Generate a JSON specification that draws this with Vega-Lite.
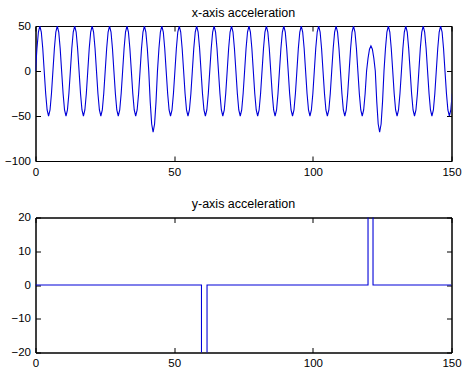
{
  "$schema": "https://vega.github.io/schema/vega-lite/v6.json",
  "padding": {"left": 2.5, "top": 6, "right": 5, "bottom": 5},
  "background": "white",
  "datasets": {
    "xacc": [
      {"x":0,"a":0},{"x":0.52,"a":25},{"x":1.05,"a":43.3},{"x":1.57,"a":50},{"x":2.09,"a":43.3},{"x":2.62,"a":25},
      {"x":3.14,"a":0},{"x":3.67,"a":-25},{"x":4.19,"a":-43.3},{"x":4.71,"a":-50},{"x":5.24,"a":-43.3},{"x":5.76,"a":-25},
      {"x":6.28,"a":0},{"x":6.81,"a":25},{"x":7.33,"a":43.3},{"x":7.85,"a":50},{"x":8.38,"a":43.3},{"x":8.9,"a":25},
      {"x":9.42,"a":0},{"x":9.95,"a":-25},{"x":10.47,"a":-43.3},{"x":11,"a":-50},{"x":11.52,"a":-43.3},{"x":12.04,"a":-25},
      {"x":12.57,"a":0},{"x":13.09,"a":25},{"x":13.61,"a":43.3},{"x":14.14,"a":50},{"x":14.66,"a":43.3},{"x":15.18,"a":25},
      {"x":15.71,"a":0},{"x":16.23,"a":-25},{"x":16.76,"a":-43.3},{"x":17.28,"a":-50},{"x":17.8,"a":-43.3},{"x":18.33,"a":-25},
      {"x":18.85,"a":0},{"x":19.37,"a":25},{"x":19.9,"a":43.3},{"x":20.42,"a":50},{"x":20.94,"a":43.3},{"x":21.47,"a":25},
      {"x":21.99,"a":0},{"x":22.51,"a":-25},{"x":23.04,"a":-43.3},{"x":23.56,"a":-50},{"x":24.09,"a":-43.3},{"x":24.61,"a":-25},
      {"x":25.13,"a":0},{"x":25.66,"a":25},{"x":26.18,"a":43.3},{"x":26.7,"a":50},{"x":27.23,"a":43.3},{"x":27.75,"a":25},
      {"x":28.27,"a":0},{"x":28.8,"a":-25},{"x":29.32,"a":-43.3},{"x":29.85,"a":-50},{"x":30.37,"a":-43.3},{"x":30.89,"a":-25},
      {"x":31.42,"a":0},{"x":31.94,"a":25},{"x":32.46,"a":43.3},{"x":32.99,"a":50},{"x":33.51,"a":43.3},{"x":34.03,"a":25},
      {"x":34.56,"a":0},{"x":35.08,"a":-25},{"x":35.6,"a":-43.3},{"x":36.13,"a":-50},{"x":36.65,"a":-43.3},{"x":37.18,"a":-25},
      {"x":37.7,"a":0},{"x":38.22,"a":25},{"x":38.75,"a":43.3},{"x":39.27,"a":50},{"x":39.79,"a":43.3},{"x":40.32,"a":25},
      {"x":40.84,"a":0},{"x":41.36,"a":-34},{"x":41.89,"a":-58.9},{"x":42.41,"a":-68},{"x":42.94,"a":-58.9},{"x":43.46,"a":-34},
      {"x":43.98,"a":0},{"x":44.51,"a":25},{"x":45.03,"a":43.3},{"x":45.55,"a":50},{"x":46.08,"a":43.3},{"x":46.6,"a":25},
      {"x":47.12,"a":0},{"x":47.65,"a":-25},{"x":48.17,"a":-43.3},{"x":48.69,"a":-50},{"x":49.22,"a":-43.3},{"x":49.74,"a":-25},
      {"x":50.27,"a":0},{"x":50.79,"a":25},{"x":51.31,"a":43.3},{"x":51.84,"a":50},{"x":52.36,"a":43.3},{"x":52.88,"a":25},
      {"x":53.41,"a":0},{"x":53.93,"a":-25},{"x":54.45,"a":-43.3},{"x":54.98,"a":-50},{"x":55.5,"a":-43.3},{"x":56.03,"a":-25},
      {"x":56.55,"a":0},{"x":57.07,"a":25},{"x":57.6,"a":43.3},{"x":58.12,"a":50},{"x":58.64,"a":43.3},{"x":59.17,"a":25},
      {"x":59.69,"a":0},{"x":60.21,"a":-25},{"x":60.74,"a":-43.3},{"x":61.26,"a":-50},{"x":61.78,"a":-43.3},{"x":62.31,"a":-25},
      {"x":62.83,"a":0},{"x":63.36,"a":25},{"x":63.88,"a":43.3},{"x":64.4,"a":50},{"x":64.93,"a":43.3},{"x":65.45,"a":25},
      {"x":65.97,"a":0},{"x":66.5,"a":-25},{"x":67.02,"a":-43.3},{"x":67.54,"a":-50},{"x":68.07,"a":-43.3},{"x":68.59,"a":-25},
      {"x":69.12,"a":0},{"x":69.64,"a":25},{"x":70.16,"a":43.3},{"x":70.69,"a":50},{"x":71.21,"a":43.3},{"x":71.73,"a":25},
      {"x":72.26,"a":0},{"x":72.78,"a":-25},{"x":73.3,"a":-43.3},{"x":73.83,"a":-50},{"x":74.35,"a":-43.3},{"x":74.87,"a":-25},
      {"x":75.4,"a":0},{"x":75.92,"a":25},{"x":76.45,"a":43.3},{"x":76.97,"a":50},{"x":77.49,"a":43.3},{"x":78.02,"a":25},
      {"x":78.54,"a":0},{"x":79.06,"a":-25},{"x":79.59,"a":-43.3},{"x":80.11,"a":-50},{"x":80.63,"a":-43.3},{"x":81.16,"a":-25},
      {"x":81.68,"a":0},{"x":82.21,"a":25},{"x":82.73,"a":43.3},{"x":83.25,"a":50},{"x":83.78,"a":43.3},{"x":84.3,"a":25},
      {"x":84.82,"a":0},{"x":85.35,"a":-25},{"x":85.87,"a":-43.3},{"x":86.39,"a":-50},{"x":86.92,"a":-43.3},{"x":87.44,"a":-25},
      {"x":87.96,"a":0},{"x":88.49,"a":25},{"x":89.01,"a":43.3},{"x":89.54,"a":50},{"x":90.06,"a":43.3},{"x":90.58,"a":25},
      {"x":91.11,"a":0},{"x":91.63,"a":-25},{"x":92.15,"a":-43.3},{"x":92.68,"a":-50},{"x":93.2,"a":-43.3},{"x":93.72,"a":-25},
      {"x":94.25,"a":0},{"x":94.77,"a":25},{"x":95.3,"a":43.3},{"x":95.82,"a":50},{"x":96.34,"a":43.3},{"x":96.87,"a":25},
      {"x":97.39,"a":0},{"x":97.91,"a":-25},{"x":98.44,"a":-43.3},{"x":98.96,"a":-50},{"x":99.48,"a":-43.3},{"x":100.01,"a":-25},
      {"x":100.53,"a":0},{"x":101.05,"a":25},{"x":101.58,"a":43.3},{"x":102.1,"a":50},{"x":102.63,"a":43.3},{"x":103.15,"a":25},
      {"x":103.67,"a":0},{"x":104.2,"a":-25},{"x":104.72,"a":-43.3},{"x":105.24,"a":-50},{"x":105.77,"a":-43.3},{"x":106.29,"a":-25},
      {"x":106.81,"a":0},{"x":107.34,"a":25},{"x":107.86,"a":43.3},{"x":108.38,"a":50},{"x":108.91,"a":43.3},{"x":109.43,"a":25},
      {"x":109.96,"a":0},{"x":110.48,"a":-25},{"x":111,"a":-43.3},{"x":111.53,"a":-50},{"x":112.05,"a":-43.3},{"x":112.57,"a":-25},
      {"x":113.1,"a":0},{"x":113.62,"a":25},{"x":114.14,"a":43.3},{"x":114.67,"a":50},{"x":115.19,"a":43.3},{"x":115.72,"a":25},
      {"x":116.24,"a":0},{"x":116.76,"a":-25},{"x":117.29,"a":-43.3},{"x":117.81,"a":-50},{"x":118.33,"a":-43.3},{"x":118.86,"a":-25},
      {"x":119.38,"a":0},{"x":119.9,"a":14},{"x":120.43,"a":24.2},{"x":120.95,"a":28},{"x":121.47,"a":24.2},{"x":122,"a":14},
      {"x":122.52,"a":0},{"x":123.05,"a":-34},{"x":123.57,"a":-58.9},{"x":124.09,"a":-68},{"x":124.62,"a":-58.9},{"x":125.14,"a":-34},
      {"x":125.66,"a":0},{"x":126.19,"a":25},{"x":126.71,"a":43.3},{"x":127.23,"a":50},{"x":127.76,"a":43.3},{"x":128.28,"a":25},
      {"x":128.81,"a":0},{"x":129.33,"a":-25},{"x":129.85,"a":-43.3},{"x":130.38,"a":-50},{"x":130.9,"a":-43.3},{"x":131.42,"a":-25},
      {"x":131.95,"a":0},{"x":132.47,"a":25},{"x":132.99,"a":43.3},{"x":133.52,"a":50},{"x":134.04,"a":43.3},{"x":134.56,"a":25},
      {"x":135.09,"a":0},{"x":135.61,"a":-25},{"x":136.14,"a":-43.3},{"x":136.66,"a":-50},{"x":137.18,"a":-43.3},{"x":137.71,"a":-25},
      {"x":138.23,"a":0},{"x":138.75,"a":25},{"x":139.28,"a":43.3},{"x":139.8,"a":50},{"x":140.32,"a":43.3},{"x":140.85,"a":25},
      {"x":141.37,"a":0},{"x":141.9,"a":-25},{"x":142.42,"a":-43.3},{"x":142.94,"a":-50},{"x":143.47,"a":-43.3},{"x":143.99,"a":-25},
      {"x":144.51,"a":0},{"x":145.04,"a":25},{"x":145.56,"a":43.3},{"x":146.08,"a":50},{"x":146.61,"a":43.3},{"x":147.13,"a":25},
      {"x":147.65,"a":0},{"x":148.18,"a":-25},{"x":148.7,"a":-43.3},{"x":149.23,"a":-50},{"x":149.75,"a":-43.3},{"x":150.27,"a":-25}
    ],
    "yacc": [
      {"x":0,"b":0},{"x":59.85,"b":0},{"x":59.85,"b":-25},{"x":61.85,"b":-25},{"x":61.85,"b":0},
      {"x":119.9,"b":0},{"x":119.9,"b":25},{"x":121.7,"b":25},{"x":121.7,"b":0},{"x":150,"b":0}
    ]
  },
  "vconcat": [
    {
      "width": 416,
      "height": 135,
      "title": "x-axis acceleration",
      "data": {"name": "xacc"},
      "layer": [
        {
          "mark": {"type": "line", "color": "#0000d8", "strokeWidth": 1.1, "clip": true},
          "encoding": {
            "x": {"field": "x", "type": "quantitative", "sort": null, "title": null,
                  "scale": {"domain": [0, 150], "nice": false, "zero": false},
                  "axis": {"orient": "bottom", "values": [0, 50, 100, 150], "labelFlush": false}},
            "y": {"field": "a", "type": "quantitative", "title": null,
                  "scale": {"domain": [-100, 50], "nice": false},
                  "axis": {"orient": "left", "values": [-100, -50, 0, 50], "minExtent": 32, "maxExtent": 32}}
          }
        },
        {
          "mark": {"type": "line", "strokeOpacity": 0, "clip": true},
          "encoding": {
            "x": {"field": "x", "type": "quantitative", "title": null,
                  "scale": {"domain": [0, 150], "nice": false, "zero": false},
                  "axis": {"orient": "top", "values": [0, 50, 100, 150], "labels": false}},
            "y": {"field": "a", "type": "quantitative", "title": null,
                  "scale": {"domain": [-100, 50], "nice": false},
                  "axis": {"orient": "right", "values": [-100, -50, 0, 50], "labels": false}}
          }
        }
      ],
      "resolve": {"axis": {"x": "independent", "y": "independent"}}
    },
    {
      "width": 416,
      "height": 135,
      "title": "y-axis acceleration",
      "data": {"name": "yacc"},
      "layer": [
        {
          "mark": {"type": "line", "color": "#0000d8", "strokeWidth": 1.1, "clip": true},
          "encoding": {
            "x": {"field": "x", "type": "quantitative", "sort": null, "title": null,
                  "scale": {"domain": [0, 150], "nice": false, "zero": false},
                  "axis": {"orient": "bottom", "values": [0, 50, 100, 150], "labelFlush": false}},
            "y": {"field": "b", "type": "quantitative", "title": null,
                  "scale": {"domain": [-20, 20], "nice": false},
                  "axis": {"orient": "left", "values": [-20, -10, 0, 10, 20], "minExtent": 32, "maxExtent": 32}}
          }
        },
        {
          "mark": {"type": "line", "strokeOpacity": 0, "clip": true},
          "encoding": {
            "x": {"field": "x", "type": "quantitative", "title": null,
                  "scale": {"domain": [0, 150], "nice": false, "zero": false},
                  "axis": {"orient": "top", "values": [0, 50, 100, 150], "labels": false}},
            "y": {"field": "b", "type": "quantitative", "title": null,
                  "scale": {"domain": [-20, 20], "nice": false},
                  "axis": {"orient": "right", "values": [-20, -10, 0, 10, 20], "labels": false}}
          }
        }
      ],
      "resolve": {"axis": {"x": "independent", "y": "independent"}}
    }
  ],
  "spacing": 56.5,
  "bounds": "flush",
  "config": {
    "view": {"stroke": "black", "strokeWidth": 1},
    "axis": {
      "domainColor": "black", "tickColor": "black", "labelColor": "black",
      "labelFont": "Liberation Sans", "labelFontSize": 11.5,
      "tickSize": -5, "labelPadding": 10, "grid": false, "labelOverlap": false
    },
    "title": {"font": "Liberation Sans", "fontSize": 12.5, "fontWeight": "normal", "color": "black", "offset": 0.7}
  }
}
